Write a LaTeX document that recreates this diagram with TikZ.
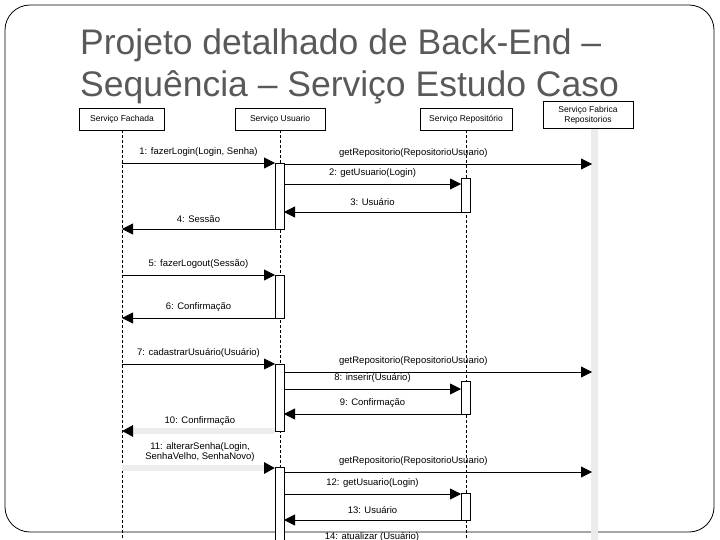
\documentclass[tikz,border=0pt]{standalone}
\usepackage{fontspec}
\setmainfont{Liberation Sans}
\usetikzlibrary{arrows.meta}
\begin{document}
\begin{tikzpicture}[x=1pt,y=-1pt,
  hdr/.style={draw,fill=white,minimum height=22pt,font=\fontsize{8.5}{9}\selectfont,inner sep=1pt},
  life/.style={densely dashed,line width=0.5pt},
  act/.style={draw,fill=white,line width=0.5pt},
  msg/.style={-{Triangle[length=11pt,width=11pt]},line width=0.8pt},
  fmsg/.style={-{Triangle[length=11pt,width=11pt,color=black]},line width=6pt,draw=black!7},
  lbl/.style={font=\fontsize{9.5}{10.5}\selectfont,inner sep=0pt,align=center}]
\useasboundingbox (0,0) rectangle (720,540);
\begin{scope}
\clip (0,0) rectangle (720,540);
\draw[line width=0.8pt,rounded corners=25pt] (5,5) rectangle (714,532);
\node[anchor=base west,text=black!65,font=\fontsize{35.5}{40}\selectfont,inner sep=0pt] (title) at (80,55) {Projeto detalhado de Back-End –};
\node[anchor=base west,text=black!65,font=\fontsize{35.5}{40}\selectfont,inner sep=0pt] (title2) at (80,97) {Sequência – Serviço Estudo Caso};
% lifelines
\draw[black!8,line width=7pt] (594,128) -- (594,540);
\draw[life] (122,130) -- (122,540);
\draw[life] (280,130) -- (280,540);
\draw[life] (466,130) -- (466,540);
\node[hdr,minimum width=85pt] (fa) at (122,119) {Serviço Fachada};
\node[hdr,minimum width=90pt] (us) at (280,119) {Serviço Usuario};
\node[hdr,minimum width=92pt] (re) at (466,119) {Serviço Repositório};
\node[hdr,minimum width=90pt,minimum height=27pt,align=center,font=\fontsize{8.5}{10}\selectfont] (fb) at (588,115) {Serviço Fabrica\\Repositorios};
% faint message bands
\coordinate (a10) at (275,431); \coordinate (b10) at (122,431);
\draw[fmsg] (a10) -- (b10);
\coordinate (a11) at (122,468); \coordinate (b11) at (275,468);
\draw[fmsg] (a11) -- (b11);
% activations
\draw[act] (275,163) rectangle (284,229);
\draw[act] (461,178) rectangle (470,212);
\draw[act] (275,275) rectangle (284,318);
\draw[act] (275,364) rectangle (284,431);
\draw[act] (461,381) rectangle (470,414);
\draw[act] (275,467) rectangle (284,545);
\draw[act] (461,493) rectangle (470,520);
\coordinate (f1) at (122,163); \coordinate (u1) at (275,163);
\draw[msg] (f1) -- (u1) node[lbl,midway,above=6pt] {1: fazerLogin(Login, Senha)};
\coordinate (ga) at (284,164); \coordinate (gb) at (592,164);
\draw[msg] (ga) -- (gb) node[lbl,pos=0.42,above=6pt] {getRepositorio(RepositorioUsuario)};
\coordinate (a2) at (284,184); \coordinate (b2) at (461,184);
\draw[msg] (a2) -- (b2) node[lbl,midway,above=6pt] {2: getUsuario(Login)};
\coordinate (a3) at (461,212); \coordinate (b3) at (284,212);
\draw[msg] (a3) -- (b3) node[lbl,midway,above=6pt] {3: Usuário};
\coordinate (a4) at (275,229); \coordinate (b4) at (122,229);
\draw[msg] (a4) -- (b4) node[lbl,midway,above=6pt] {4: Sessão};
\coordinate (a5) at (122,275); \coordinate (b5) at (275,275);
\draw[msg] (a5) -- (b5) node[lbl,midway,above=6pt] {5: fazerLogout(Sessão)};
\coordinate (a6) at (275,318); \coordinate (b6) at (122,318);
\draw[msg] (a6) -- (b6) node[lbl,midway,above=6pt] {6: Confirmação};
\coordinate (a7) at (122,364); \coordinate (b7) at (275,364);
\draw[msg] (a7) -- (b7) node[lbl,midway,above=6pt] {7: cadastrarUsuário(Usuário)};
\coordinate (ga2) at (284,372); \coordinate (gb2) at (592,372);
\draw[msg] (ga2) -- (gb2) node[lbl,pos=0.42,above=6pt] {getRepositorio(RepositorioUsuario)};
\coordinate (a8) at (284,389); \coordinate (b8) at (461,389);
\draw[msg] (a8) -- (b8) node[lbl,midway,above=6pt] {8: inserir(Usuário)};
\coordinate (a9) at (461,414); \coordinate (b9) at (284,414);
\draw[msg] (a9) -- (b9) node[lbl,midway,above=6pt] {9: Confirmação};
\node[lbl] (l10) at (200,421) {10: Confirmação};
\node[lbl,align=center] (l11) at (200,452) {11: alterarSenha(Login,\\SenhaVelho, SenhaNovo)};
\coordinate (ga3) at (284,472); \coordinate (gb3) at (592,472);
\draw[msg] (ga3) -- (gb3) node[lbl,pos=0.42,above=6pt] {getRepositorio(RepositorioUsuario)};
\coordinate (a12) at (284,494); \coordinate (b12) at (461,494);
\draw[msg] (a12) -- (b12) node[lbl,midway,above=6pt] {12: getUsuario(Login)};
\coordinate (a13) at (461,520); \coordinate (b13) at (284,520);
\draw[msg] (a13) -- (b13) node[lbl,midway,above=6pt] {13: Usuário};
\node[lbl] (l14) at (372,537) {14: atualizar (Usuário)};
\end{scope}
\end{tikzpicture}
\end{document}
